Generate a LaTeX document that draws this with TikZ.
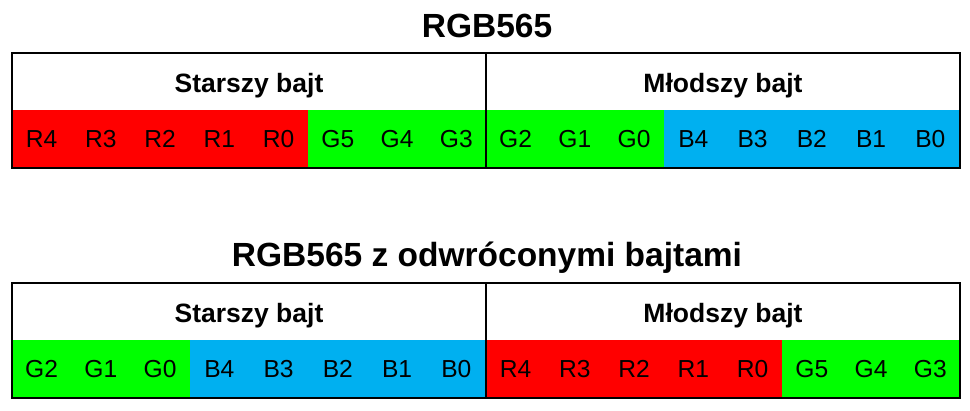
\documentclass[tikz,border=0pt]{standalone}
\usepackage{fontspec}
\setmainfont{Liberation Sans}
\definecolor{cR}{RGB}{255,0,0}
\definecolor{cG}{RGB}{0,255,0}
\definecolor{cB}{RGB}{0,176,240}
\begin{document}
\begin{tikzpicture}[x=1pt,y=-1pt,
  cell/.style={rectangle,inner sep=0pt,minimum width=59.25pt,minimum height=58pt,line width=0.4pt,font=\fontsize{24.6}{24.6}\selectfont},
  head/.style={rectangle,inner sep=0pt,minimum width=474pt,minimum height=57pt,text height=23pt,text depth=0pt,font=\bfseries\fontsize{26.5}{26.5}\selectfont},
  title/.style={anchor=base,inner sep=0pt,font=\bfseries\fontsize{33.5}{33.5}\selectfont},
  frame/.style={line width=2.5pt,draw=black},
  divider/.style={line width=2pt,draw=black}]
\useasboundingbox (0,0) rectangle (970,411);
% ---- RGB565 ----
\node[title] (title1) at (487,38) {RGB565};
\node[head] (ah1) at (249,81.5) {Starszy bajt};
\node[head] (ah2) at (723,81.5) {Młodszy bajt};
\foreach \lab/\col [count=\i from 0] in {R4/cR,R3/cR,R2/cR,R1/cR,R0/cR,G5/cG,G4/cG,G3/cG,G2/cG,G1/cG,G0/cG,B4/cB,B3/cB,B2/cB,B1/cB,B0/cB}
  \node[cell,fill=\col,draw=\col] (a\i) at ({12+59.25*(\i+0.5)},139) {\lab};
\draw[frame] (a0.south west) rectangle (ah2.north east);
\draw[divider] (ah1.north east) -- (a7.south east);
% ---- RGB565 z odwroconymi bajtami ----
\node[title] (title2) at (487,267) {RGB565 z odwróconymi bajtami};
\node[head] (bh1) at (249,311.5) {Starszy bajt};
\node[head] (bh2) at (723,311.5) {Młodszy bajt};
\foreach \lab/\col [count=\i from 0] in {G2/cG,G1/cG,G0/cG,B4/cB,B3/cB,B2/cB,B1/cB,B0/cB,R4/cR,R3/cR,R2/cR,R1/cR,R0/cR,G5/cG,G4/cG,G3/cG}
  \node[cell,fill=\col,draw=\col] (b\i) at ({12+59.25*(\i+0.5)},369) {\lab};
\draw[frame] (b0.south west) rectangle (bh2.north east);
\draw[divider] (bh1.north east) -- (b7.south east);
\end{tikzpicture}
\end{document}
